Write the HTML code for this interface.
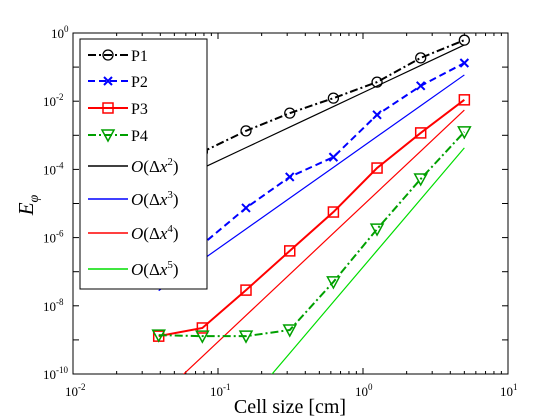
<!DOCTYPE html>
<html><head><meta charset="utf-8"><style>
html,body{margin:0;padding:0;background:#fff;width:560px;height:420px;overflow:hidden;}
svg{display:block;font-family:"Liberation Serif",serif;overflow:hidden;}
</style></head><body>
<svg id="chart" width="560" height="420"></svg>
<script>
const xs=[0.039,0.078,0.156,0.3125,0.625,1.25,2.5,5];
const p1=[-4.1,-3.49,-2.87,-2.35,-1.91,-1.44,-0.73,-0.21];
const p2=[-6.8,-6.2,-5.13,-4.22,-3.64,-2.40,-1.55,-0.88];
const p3=[-8.89,-8.65,-7.54,-6.39,-5.25,-3.96,-2.93,-1.96];
const p4=[-8.86,-8.89,-8.89,-8.71,-7.30,-5.75,-4.28,-2.90];
const refOrders=[2,3,4,5];
const refAt5=[-0.35,-1.23,-2.26,-3.37];
const xTicks=[-2,-1,0,1];
const yTicks=[0,-2,-4,-6,-8,-10];
const L=73,R=508,T=33,B=374;
const NS="http://www.w3.org/2000/svg";
const svg=document.getElementById('chart');
function X(v){return L+(Math.log10(v)+2)/3*(R-L);}
function Y(lg){return T+(0-lg)/10*(B-T);}
function el(t,a,p){const e=document.createElementNS(NS,t);for(const k in a)e.setAttribute(k,a[k]);(p||svg).appendChild(e);return e;}
const defs=el('defs',{});const cp=el('clipPath',{id:'clip'},defs);el('rect',{x:L,y:T,width:R-L,height:B-T},cp);
const frame=el('rect',{x:L,y:T,width:R-L,height:B-T,fill:'none',stroke:'#000','stroke-width':1});


for(let d=-2;d<1;d++){for(let m=1;m<10;m++){const x=X(m*Math.pow(10,d));const len=m==1?6:3;
el('line',{x1:x,y1:B,x2:x,y2:B-len,stroke:'#000'});el('line',{x1:x,y1:T,x2:x,y2:T+len,stroke:'#000'});}}
xTicks.forEach(t=>{const x=X(Math.pow(10,t));
const g=el('text',{x:x-8,y:B+22,'font-size':13});
g.textContent='10';const s=el('tspan',{dy:-6,'font-size':9},g);s.textContent=String(t);});
for(let t=0;t>=-10;t--){const y=Y(t);el('line',{x1:L,y1:y,x2:L+6,y2:y,stroke:'#000'});el('line',{x1:R,y1:y,x2:R-6,y2:y,stroke:'#000'});}
yTicks.forEach(t=>{const y=Y(t);
const g=el('text',{x:L-30+(t==0?8:0),y:y+5,'font-size':13});
g.textContent='10';const s=el('tspan',{dy:-6,'font-size':9},g);s.textContent=String(t);});
const xl=el('text',{x:290,y:413,'font-size':20,'text-anchor':'middle'});xl.textContent='Cell size [cm]';

const yl=el('text',{x:0,y:0,'font-size':21,'font-style':'italic',transform:'translate(33,205) rotate(-90)','text-anchor':'middle'});
yl.textContent='E';const ys=el('tspan',{dy:5,'font-size':14},yl);ys.textContent='φ';

const gp=el('g',{'clip-path':'url(#clip)'});
const refColors=['#000','#0000ff','#ff0000','#00dd00'];
refOrders.forEach((o,i)=>{const pts=xs.map(x=>X(x)+','+Y(refAt5[i]-o*(Math.log10(5)-Math.log10(x)))).join(' ');
const l=el('polyline',{points:pts,fill:'none',stroke:refColors[i],'stroke-width':1.2},gp);
});
const series=[{d:p1,c:'#000',dash:'8,3,2,3',m:'o',n:'P1'},{d:p2,c:'#0000ff',dash:'7,4',m:'x',n:'P2'},{d:p3,c:'#ff0000',dash:'',m:'s',n:'P3'},{d:p4,c:'#00a000',dash:'8,3,2,3',m:'v',n:'P4'}];
function marker(m,x,y,c,p){
if(m=='o')return el('circle',{cx:x,cy:y,r:5,fill:'none',stroke:c,'stroke-width':1.3},p);
if(m=='x'){const g=el('g',{},p);el('path',{d:`M${x-4},${y-4}L${x+4},${y+4}M${x-4},${y+4}L${x+4},${y-4}`,stroke:c,'stroke-width':2},g);return g;}
if(m=='s')return el('rect',{x:x-5,y:y-5,width:10,height:10,fill:'none',stroke:c,'stroke-width':1.5},p);
return el('path',{d:`M${x-6},${y-5}L${x+6},${y-5}L${x},${y+6}Z`,fill:'none',stroke:c,'stroke-width':1.5},p);}
series.forEach(s=>{const g=el('g',{},gp);
el('polyline',{points:xs.map((x,i)=>X(x)+','+Y(s.d[i])).join(' '),fill:'none',stroke:s.c,'stroke-width':2,'stroke-dasharray':s.dash},g);
xs.forEach((x,i)=>{const mk=marker(s.m,X(x),Y(s.d[i]),s.c,g);});});
const lg=el('g',{});
el('rect',{x:80,y:39,width:127,height:250,fill:'#fff',stroke:'#000'},lg);
const rows=[55,81,108,135,166,199,233,269];
const labels=['P1','P2','P3','P4','O(Δx2)','O(Δx3)','O(Δx4)','O(Δx5)'];
labels.forEach((lab,i)=>{const y=rows[i];const e=el('g',{},lg);
if(i<4){const s=series[i];el('line',{x1:88,y1:y,x2:128,y2:y,stroke:s.c,'stroke-width':2,'stroke-dasharray':s.dash},e);marker(s.m,108,y,s.c,e);
const t=el('text',{x:131,y:y+6,'font-size':16},e);t.textContent=lab;}
else{el('line',{x1:88,y1:y,x2:128,y2:y,stroke:refColors[i-4],'stroke-width':1.5},e);
const t=el('text',{x:131,y:y+6,'font-size':17},e);const a=el('tspan',{'font-style':'italic'},t);a.textContent='O';
const b=el('tspan',{},t);b.textContent='(Δ';const c=el('tspan',{'font-style':'italic'},t);c.textContent='x';
const d=el('tspan',{dy:-7,'font-size':11},t);d.textContent=String(refOrders[i-4]);const f=el('tspan',{dy:7},t);f.textContent=')';}});
</script>
</body></html>
